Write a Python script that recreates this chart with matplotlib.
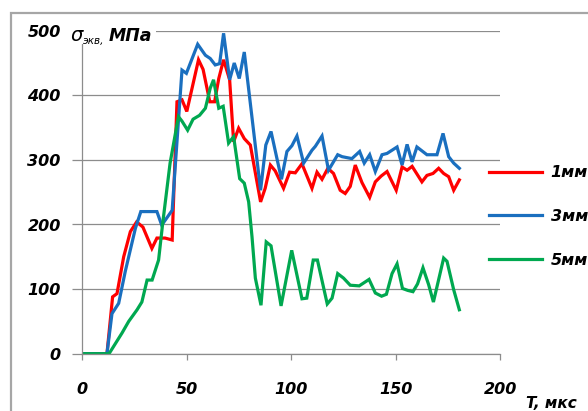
import matplotlib
matplotlib.use("Agg")
import matplotlib.pyplot as plt
from matplotlib.patches import Rectangle

# time, us / equivalent stress, MPa for three depths
t_1mm = [0, 11.8, 14.5, 16.6, 19.8, 23, 26, 29, 33.3, 35.7, 39.6, 43, 45.3, 47.7, 50,
         55.6, 57.8, 61, 63.3, 65.3, 67.6, 70.5, 72.4, 74.8, 77.5, 80.4, 85.3, 87.5,
         90, 92.3, 96.3, 99.2, 101.9, 105.1, 109.9, 112.3, 114.7, 117.5, 120.2, 123.4,
         125.8, 128.2, 130.6, 133.8, 137.5, 140.2, 143, 145.8, 150.2, 153, 155.4, 157.8,
         162.5, 164.9, 167.8, 170.5, 172.9, 175.3, 177.7, 180.4]
s_1mm = [0, 0, 88, 93, 150, 189, 204, 196, 163, 179, 179, 176, 390, 393, 375,
         455, 440, 390, 390, 426, 455, 424, 328, 349, 333, 323, 235, 256,
         292, 283, 256, 281, 280, 294, 256, 281, 270, 287, 279, 253,
         248, 259, 292, 265, 242, 266, 275, 282, 253, 289, 284, 290,
         266, 276, 279, 287, 279, 274, 253, 269]

t_3mm = [0, 11.8, 14.2, 17.4, 20.6, 25.4, 28, 35.7, 38, 43, 47.7, 49.8, 55.2, 58.9,
         61.2, 63.6, 65.7, 67.6, 70.5, 72.7, 75.1, 77.5, 85.3, 87.8, 90.3, 95.3, 97.9,
         100.3, 102.7, 105.9, 109.9, 111.5, 114.7, 117.8, 122.2, 124.3, 129, 132.7,
         134.9, 137.5, 140.2, 143.4, 145.8, 150.6, 153, 155.4, 157.8, 160.1, 164.9,
         169.7, 172.6, 175.3, 177.7, 180.4]
s_3mm = [0, 0, 62, 78, 128, 194, 220, 220, 199, 222, 439, 434, 479, 462,
         457, 447, 449, 496, 424, 450, 426, 467, 253, 323, 344, 270, 313,
         322, 337, 295, 315, 321, 337, 284, 308, 305, 302, 313,
         295, 308, 282, 308, 310, 320, 292, 324, 297, 320, 308,
         308, 341, 305, 295, 287]

t_5mm = [0, 12.8, 19, 22.2, 26.2, 28.5, 31, 33.4, 36.5, 38.4, 42, 46, 47.7, 50.4, 53,
         56.1, 58.9, 61.2, 62.8, 65.3, 67.4, 70, 72.4, 75.3, 77.5, 79.6, 81.2, 82.8,
         85.5, 88, 90.3, 95.1, 100.2, 105.1, 107.4, 110.5, 112.5, 117.2, 119.5, 122.2,
         125, 128.2, 132.5, 137.2, 140.2, 143.2, 145.5, 148.2, 150.6, 153.2, 155.7,
         158.2, 160.4, 163, 165.7, 168, 172.9, 174.5, 177.7, 180.4]
s_5mm = [0, 0, 32, 50, 68, 80, 114, 114, 145, 200, 295, 367, 360, 346, 363,
         369, 380, 411, 424, 380, 383, 326, 336, 271, 264, 235, 181, 117,
         75, 173, 167, 74, 160, 85, 86, 145, 145, 77, 86, 124,
         117, 106, 105, 115, 94, 89, 92, 124, 139, 101, 98,
         96, 108, 133, 107, 80, 148, 143, 99, 68]

series = [
    ("1мм", t_1mm, s_1mm, "#ff0000"),
    ("3мм", t_3mm, s_3mm, "#1a6fbf"),
    ("5мм", t_5mm, s_5mm, "#00a850"),
]

x_ticks = [0, 50, 100, 150, 200]
y_ticks = [0, 100, 200, 300, 400, 500]

W, H = 588, 411
fig = plt.figure(figsize=(W / 100, H / 100), dpi=100)
fig.patch.set_facecolor("white")

# chart-area border (runs off the right and bottom edges)
fig.patches.append(Rectangle((11 / W, -0.2), 1.2, 1.2 - 13 / H,
                             transform=fig.transFigure, fill=False,
                             edgecolor="#a6a6a6", linewidth=1.6, zorder=0))

ax = fig.add_axes([82.3 / W, 1 - 353.7 / H, 418 / W, 323 / H])
ax.set_facecolor("none")

for name, t, s, c in series:
    ax.plot(t, s, color=c, linewidth=2.3, label=name, solid_joinstyle="miter")

ax.set_xlim(0, 200)
ax.set_ylim(0, 500)
ax.set_xticks(x_ticks)
ax.set_yticks(y_ticks)
ax.yaxis.grid(True, color="#8c8c8c", linewidth=0.9)
ax.set_axisbelow(True)

for side in ("top", "right"):
    ax.spines[side].set_visible(False)
for side in ("left", "bottom"):
    ax.spines[side].set_color("#8c8c8c")
    ax.spines[side].set_linewidth(0.9)

tick_font = dict(fontsize=11.5, fontweight="bold", fontstyle="italic")
ax.tick_params(axis="y", length=7.5, width=0.9, color="#8c8c8c", pad=8)
ax.tick_params(axis="x", length=4.5, width=0.9, color="#8c8c8c", pad=16)
ax.set_xticklabels([str(v) for v in x_ticks], **tick_font)
ax.set_yticklabels([str(v) for v in y_ticks], **tick_font)

# y-axis title sits on a white patch over the top of the axis
fig.patches.append(Rectangle((68 / W, 1 - 44 / H), 88 / W, 20 / H,
                             transform=fig.transFigure, facecolor="white",
                             edgecolor="none", zorder=2))
fig.text(70 / W, 1 - 41 / H, "σ", fontsize=14, fontstyle="italic", zorder=3)
fig.text(83 / W, 1 - 44 / H, "экв,", fontsize=7.5, fontstyle="italic", zorder=3)
fig.text(109 / W, 1 - 41 / H, "МПа", fontsize=12.5, fontstyle="italic",
         fontweight="bold", zorder=3)

fig.text(526 / W, 1 - 408 / H, "T, мкс", fontsize=11, fontstyle="italic",
         fontweight="bold")

ax.legend(loc="upper left", bbox_to_anchor=(486 / W, 1 - 162 / H),
          bbox_transform=fig.transFigure, frameon=False,
          prop=dict(size=11.5, weight="bold", style="italic"),
          handlelength=3.3, handletextpad=0.55, labelspacing=1.8,
          borderpad=0.2, borderaxespad=0)

fig.savefig("out.png", dpi=100)
